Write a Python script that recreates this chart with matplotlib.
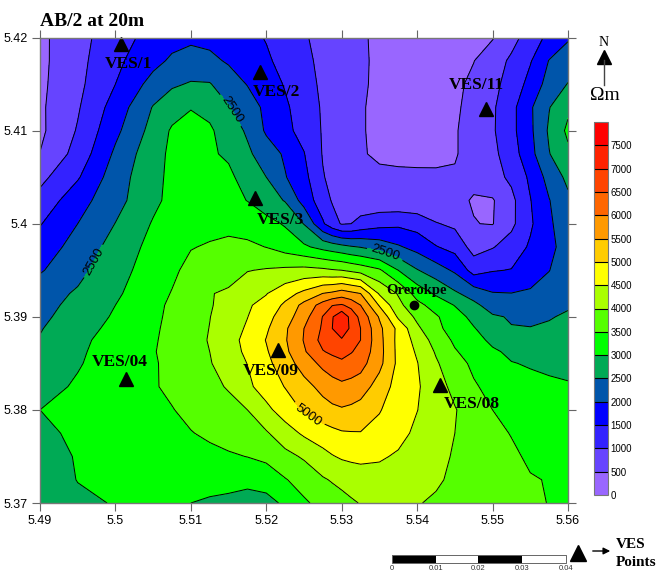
import numpy as np
import matplotlib
matplotlib.use('Agg')
import matplotlib.pyplot as plt

# grid of resistivity values (north to south)
lons = [5.49, 5.495, 5.5, 5.505, 5.51, 5.515, 5.52, 5.5225, 5.525, 5.5275, 5.53,
        5.5325, 5.535, 5.5375, 5.54, 5.545, 5.55, 5.555, 5.56]
lats = [5.42, 5.4175, 5.415, 5.4125, 5.41, 5.4075, 5.405, 5.4025, 5.4, 5.3975, 5.395,
        5.3925, 5.39125, 5.39, 5.38875, 5.3875, 5.38625, 5.385, 5.3825, 5.38, 5.3775, 5.375, 5.3725, 5.37]
rho = [
    [390, 830, 1280, 1680, 1900, 1840, 1470, 1250, 1040, 880, 700, 540, 440, 400, 390, 400, 470, 1240, 1950],
    [385, 850, 1390, 1850, 2200, 1950, 1580, 1330, 1100, 900, 700, 550, 440, 390, 370, 400, 750, 1460, 2230],
    [400, 880, 1500, 2180, 2540, 2220, 1750, 1460, 1150, 930, 730, 550, 430, 370, 360, 410, 880, 1670, 2520],
    [420, 950, 1710, 2530, 2980, 2530, 1900, 1580, 1250, 950, 730, 530, 420, 360, 350, 420, 930, 1930, 2900],
    [400, 1040, 1880, 2680, 3150, 2760, 1930, 1620, 1340, 960, 750, 530, 420, 360, 350, 460, 940, 1900, 3100],
    [510, 1180, 2090, 2830, 3150, 2930, 2250, 1930, 1520, 970, 760, 540, 430, 390, 370, 470, 880, 1840, 2900],
    [860, 1450, 2260, 2860, 3180, 3100, 2500, 2030, 1650, 1030, 760, 620, 590, 590, 590, 540, 820, 1590, 2620],
    [1170, 1800, 2330, 2890, 3200, 3130, 2730, 2470, 1800, 1220, 800, 700, 650, 620, 600, 560, 460, 1480, 2400],
    [1470, 2000, 2510, 3040, 3300, 3360, 3160, 2950, 2480, 1560, 960, 1150, 1330, 1400, 1300, 900, 480, 1420, 2150],
    [1740, 2180, 2690, 3150, 3480, 3620, 3490, 3290, 3080, 2850, 2650, 2480, 2300, 2060, 1830, 1330, 970, 1570, 2100],
    [1950, 2360, 2820, 3220, 3620, 3830, 4040, 4100, 4150, 4100, 4000, 3800, 3570, 3000, 2530, 1920, 1470, 1700, 2250],
    [2280, 2560, 2920, 3340, 3740, 4060, 4480, 4800, 5130, 5510, 5750, 5500, 4440, 3960, 3300, 2580, 2030, 2080, 2330],
    [2340, 2640, 3000, 3390, 3770, 4130, 4640, 5100, 5650, 6200, 6550, 6000, 4950, 4130, 3650, 2980, 2280, 2230, 2450],
    [2400, 2710, 3060, 3410, 3790, 4230, 4830, 5260, 5800, 6520, 7400, 6360, 5450, 4420, 3890, 3200, 2560, 2380, 2560],
    [2470, 2800, 3130, 3440, 3810, 4270, 4930, 5420, 6000, 6570, 7400, 6500, 5620, 4870, 4100, 3330, 2740, 2520, 2620],
    [2530, 2900, 3170, 3460, 3830, 4320, 5020, 5450, 6030, 6670, 6930, 6500, 5660, 4850, 4330, 3420, 2880, 2650, 2710],
    [2600, 2930, 3210, 3480, 3840, 4300, 4950, 5390, 5940, 6470, 6680, 6350, 5680, 4860, 4440, 3540, 3080, 2800, 2790],
    [2680, 2960, 3240, 3460, 3840, 4220, 4870, 5270, 5720, 6130, 6400, 6180, 5640, 4880, 4520, 3680, 3240, 2960, 2880],
    [2830, 3060, 3260, 3460, 3770, 4040, 4720, 5020, 5330, 5650, 5880, 5750, 5280, 4800, 4560, 3860, 3370, 3130, 3040],
    [3000, 3140, 3260, 3400, 3620, 3850, 4380, 4730, 5060, 5300, 5450, 5300, 5030, 4760, 4510, 4030, 3500, 3220, 3130],
    [2880, 3100, 3220, 3330, 3480, 3700, 3950, 4280, 4580, 4780, 4950, 4980, 4850, 4650, 4400, 4000, 3620, 3320, 3220],
    [2700, 3050, 3170, 3250, 3350, 3440, 3620, 3860, 4060, 4340, 4560, 4620, 4560, 4440, 4280, 3960, 3680, 3430, 3290],
    [2600, 3020, 3120, 3160, 3200, 3170, 3200, 3470, 3700, 3950, 4120, 4260, 4310, 4240, 4150, 3930, 3700, 3530, 3370],
    [2520, 2860, 3040, 3090, 3000, 2880, 2850, 3080, 3430, 3650, 3850, 4020, 4100, 4080, 4020, 3880, 3720, 3560, 3420],
]
# extra columns read where the contours bend a lot
col_5075 = [1830, 2080, 2430, 2790, 3060, 3090, 3110, 3130, 3200, 3320, 3420, 3520, 3570, 3590, 3600, 3610, 3600, 3600, 3590, 3480, 3400, 3290, 3170, 3060]
col_5125 = [1880, 2100, 2530, 2860, 3070, 3060, 3130, 3150, 3370, 3540, 3700, 3980, 3970, 3990, 4010, 4030, 4000, 3970, 3880, 3750, 3580, 3380, 3190, 2930]
col_5175 = [1640, 1760, 1980, 2220, 2430, 2590, 2800, 2990, 3280, 3600, 3980, 4300, 4450, 4490, 4560, 4640, 4590, 4510, 4400, 4000, 3830, 3510, 3100, 2850]
col_52875 = [770, 790, 820, 840, 850, 860, 880, 960, 1200, 2750, 4040, 5600, 6480, 6960, 7000, 6820, 6590, 6300, 5780, 5400, 4870, 4470, 4040, 3760]
col_53125 = [620, 620, 640, 630, 640, 650, 690, 750, 1000, 2550, 3900, 5620, 6350, 6830, 6880, 6800, 6530, 6300, 5830, 5400, 4970, 4600, 4200, 3940]
col_5425 = [395, 380, 380, 380, 390, 410, 560, 580, 1030, 1530, 2230, 2930, 3290, 3560, 3600, 3790, 3950, 4060, 4210, 4240, 4200, 4120, 4050, 3950]
col_5475 = [420, 490, 590, 670, 700, 650, 560, 480, 510, 810, 1300, 2290, 2620, 2870, 3030, 3200, 3310, 3410, 3550, 3750, 3810, 3810, 3810, 3800]
col_5525 = [820, 1090, 1170, 1350, 1360, 1260, 1100, 870, 890, 1210, 1520, 2010, 2240, 2460, 2520, 2700, 2900, 3020, 3240, 3350, 3480, 3580, 3630, 3640]
col_5575 = [1620, 2020, 2190, 2480, 2570, 2480, 2180, 1980, 1960, 1940, 1990, 2180, 2330, 2470, 2560, 2680, 2830, 2910, 3080, 3190, 3300, 3390, 3480, 3490]
extra_lons = [5.5075, 5.5125, 5.5175, 5.52875, 5.53125, 5.5425, 5.5475, 5.5525, 5.5575]
extra_cols = [col_5075, col_5125, col_5175, col_52875, col_53125, col_5425, col_5475, col_5525, col_5575]

levels = list(range(0, 8500, 500))
labelled = [2500, 5000]
cb_ticks = list(range(0, 8000, 500))
colors = ['#9966ff', '#6644ff', '#3322ff', '#0000ff', '#0055aa', '#00aa55', '#00ff00', '#55ff00',
          '#aaff00', '#ffff00', '#ffcc00', '#ff9900', '#ff6600', '#ff4400', '#ff2200', '#ff0000']

ves_names = ['VES/1', 'VES/2', 'VES/3', 'VES/11', 'VES/04', 'VES/09', 'VES/08']
ves_lon = [5.5007, 5.5192, 5.5185, 5.5491, 5.5014, 5.5216, 5.5430]
ves_lat = [5.4193, 5.4163, 5.4028, 5.4123, 5.3833, 5.3864, 5.3827]
ves_offset = [(8, -20), (16, -20), (26, -22), (-9, 24), (-6, 17), (-8, -21), (32, -19)]

# merge the extra columns into the grid
grid_lon = np.array(lons)
grid = np.array(rho, dtype=float)
for lon, col in zip(extra_lons, extra_cols):
    i = np.searchsorted(grid_lon, lon)
    grid_lon = np.insert(grid_lon, i, lon)
    grid = np.insert(grid, i, col, axis=1)

W, H = 657, 577
serif = 'Liberation Serif'
sans = 'Liberation Sans'

fig = plt.figure(figsize=(W / 100, H / 100), dpi=100)
ax = fig.add_axes([40 / W, 1 - 503 / H, 528 / W, 465.5 / H])

cf = ax.contourf(grid_lon, lats, grid, levels=levels, colors=colors)
ax.contour(grid_lon, lats, grid, levels=[v for v in levels if v not in labelled], colors='black', linewidths=0.7)
cs = ax.contour(grid_lon, lats, grid, levels=labelled, colors='black', linewidths=0.7)
lab = ax.clabel(cs, fmt='%d', fontsize=9.5, inline=True, inline_spacing=2,
                manual=[(5.5153, 5.4122), (5.4975, 5.3958), (5.5356, 5.3965), (5.5255, 5.37935)])
for t in lab:
    t.set_family(sans)

ax.set_xlim(5.49, 5.56)
ax.set_ylim(5.37, 5.42)
ax.set_xticks([5.49, 5.5, 5.51, 5.52, 5.53, 5.54, 5.55, 5.56])
ax.set_xticklabels(['5.49', '5.5', '5.51', '5.52', '5.53', '5.54', '5.55', '5.56'], family=sans, fontsize=9)
ax.set_yticks([5.37, 5.38, 5.39, 5.4, 5.41, 5.42])
ax.set_yticklabels(['5.37', '5.38', '5.39', '5.4', '5.41', '5.42'], family=sans, fontsize=9)
ax.tick_params(top=True, right=True, length=6, width=0.8, color='#666666', pad=3)
for s in ax.spines.values():
    s.set_color('#777777')
    s.set_linewidth(1.0)

# stations
ax.plot(ves_lon, ves_lat, '^', color='black', markersize=9.5, clip_on=False)
for name, x, y, off in zip(ves_names, ves_lon, ves_lat, ves_offset):
    ax.annotate(name, (x, y), xytext=off, textcoords='offset pixels', ha='center', va='center',
                family=serif, weight='bold', fontsize=12.5)
ax.plot([5.5396], [5.3913], 'o', color='black', markersize=6)
ax.annotate('Orerokpe', (5.5396, 5.3913), xytext=(2, 14), textcoords='offset pixels', ha='center', va='center',
            family=serif, weight='bold', fontsize=10.5)

# colour bar
cax = fig.add_axes([594 / W, 1 - 495 / H, 14 / W, 373 / H])
cb = fig.colorbar(cf, cax=cax, ticks=cb_ticks, drawedges=True)
cb.dividers.set_color('black')
cb.dividers.set_linewidth(0.8)
cb.outline.set_edgecolor('#777777')
cb.ax.tick_params(length=0, pad=2)
cb.ax.set_yticklabels([str(v) for v in cb_ticks], family=sans, fontsize=7)

# everything around the map, in pixel coordinates
over = fig.add_axes([0, 0, 1, 1])
over.set_xlim(0, W)
over.set_ylim(H, 0)
over.axis('off')
over.text(40, 21, 'AB/2 at 20m', family=serif, weight='bold', fontsize=14, va='center')
over.text(604, 42, 'N', family=serif, fontsize=10, ha='center', va='center')
over.plot([604], [57], '^', color='black', markersize=10)
over.plot([604, 604], [60, 85], color='#444444', lw=1)
over.text(605, 96, '\u03a9m', family=serif, fontsize=14, ha='center', va='center')

# scale bar
edges = [392, 436, 478, 522, 566]
for i in range(4):
    over.fill_between(edges[i:i + 2], 555, 563, color='black' if i % 2 == 0 else 'white', lw=0)
over.plot([392, 566, 566, 392, 392], [555, 555, 563, 563, 555], color='#666666', lw=0.7)
for e, t in zip(edges, ['0', '0.01', '0.02', '0.03', '0.04']):
    over.text(e, 569, t, family=sans, fontsize=5.5, ha='center', va='center', color='#333333')

over.plot([578], [553], '^', color='black', markersize=11)
over.annotate('', xy=(613, 551), xytext=(590, 551), arrowprops=dict(arrowstyle='-|>', color='black', lw=1))
over.text(616, 545, 'VES', family=serif, weight='bold', fontsize=11, va='center')
over.text(616, 563, 'Points', family=serif, weight='bold', fontsize=11, va='center')

fig.savefig('out.png', dpi=100)
